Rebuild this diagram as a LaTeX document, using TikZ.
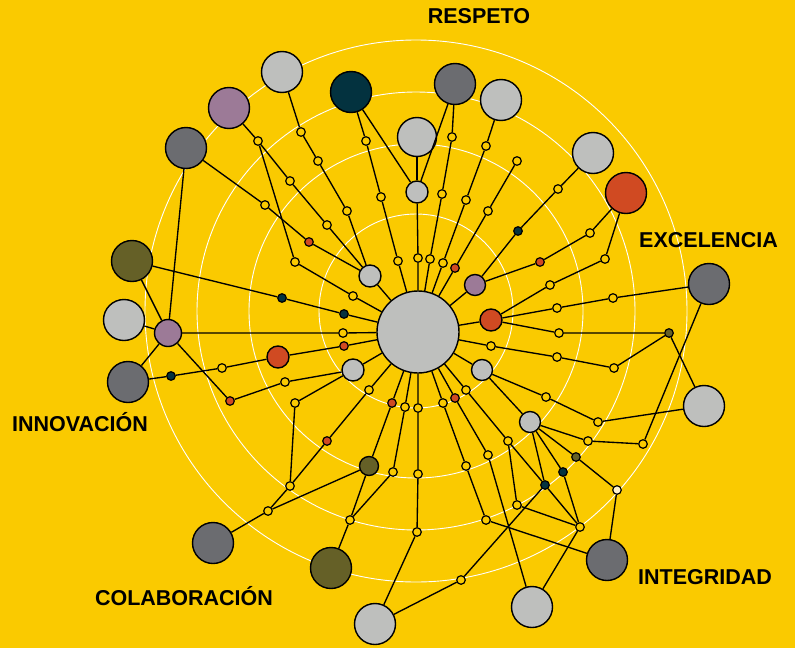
\documentclass[tikz,border=0pt]{standalone}
\usepackage{fontspec}
\setmainfont{Liberation Sans}
\newfontfamily\labfont{Liberation Sans Bold}
\definecolor{bg}{HTML}{FACA00}
\definecolor{lgray}{HTML}{BEBFBD}
\definecolor{dgray}{HTML}{6B6C70}
\definecolor{purp}{HTML}{9C7A97}
\definecolor{teal}{HTML}{03323F}
\definecolor{olive}{HTML}{656027}
\definecolor{redn}{HTML}{D04A22}
\definecolor{cream}{HTML}{FFF1C8}
\tikzset{
  nd/.style={circle, draw=black, line width=1.4pt, inner sep=0pt},
  big/.style={nd, minimum size=41pt},
  med/.style={nd, minimum size=22pt},
  sm/.style={circle, draw=black, line width=1.2pt, inner sep=0pt, minimum size=8.6pt, fill=bg},
  edge/.style={line width=1.35pt, black},
  ring/.style={white, line width=0.9pt},
  lab/.style={font=\labfont\fontsize{21.5}{24}\selectfont, anchor=base, inner sep=0pt}
}
\begin{document}
\begin{tikzpicture}[x=1pt,y=-1pt]
\fill[bg] (0,0) rectangle (795,648);
\useasboundingbox (0,0) rectangle (795,648);
% rings
\foreach \r in {97,167,219,271} \draw[ring] (416,311) circle[radius=\r pt];
% labels
\node[lab] (tR) at (479,23.5) {RESPETO};
\node[lab] (tE) at (708.5,247) {EXCELENCIA};
\node[lab] (tI) at (705,584) {INTEGRIDAD};
\node[lab] (tN) at (80,431) {INNOVACIÓN};
\node[lab] (tC) at (184,605) {COLABORACIÓN};
% central
\node[nd, fill=lgray, minimum size=82pt] (C0) at (418,332) {};
% big nodes
\node[big, fill=lgray] (L1) at (282,72) {};
\node[big, fill=purp] (P1) at (229,108) {};
\node[big, fill=teal] (N1) at (351,92) {};
\node[big, fill=dgray] (G1) at (455,84) {};
\node[big, fill=lgray] (L2) at (501,100) {};
\node[big, fill=lgray, minimum size=39pt] (L3) at (417,137) {};
\node[big, fill=lgray] (L4) at (593,153) {};
\node[big, fill=redn] (R1) at (626,193) {};
\node[big, fill=dgray] (Gtl) at (186,148) {};
\node[big, fill=dgray] (G2) at (709,284) {};
\node[big, fill=olive] (O1) at (132,261) {};
\node[big, fill=lgray] (L5) at (124,320) {};
\node[big, fill=dgray] (G3) at (128,382) {};
\node[big, fill=lgray] (L6) at (704,406) {};
\node[big, fill=dgray] (G4) at (607,560) {};
\node[big, fill=lgray] (L7) at (532,607) {};
\node[big, fill=dgray] (G5) at (213,543) {};
\node[big, fill=olive] (O2) at (331,568) {};
\node[big, fill=lgray] (L8) at (375,624) {};
% medium nodes
\node[med, fill=lgray] (S1) at (417,192) {};
\node[med, fill=lgray] (SA) at (370,276) {};
\node[med, fill=purp, minimum size=27pt] (PM) at (168,333) {};
\node[med, fill=redn] (RM) at (278,357) {};
\node[med, fill=lgray] (SD) at (353,370) {};
\node[med, fill=purp, minimum size=21pt] (PS) at (475,285) {};
\node[med, fill=redn] (RR) at (491,320) {};
\node[med, fill=lgray, minimum size=21pt] (SB) at (482,370) {};
\node[med, fill=lgray, minimum size=21pt] (SC) at (530,422) {};
\node[med, fill=olive, minimum size=19pt] (OS) at (369,466) {};
% small nodes
\node[sm] (a1) at (301,132) {};
\node[sm] (a2) at (318,161) {};
\node[sm] (a3) at (347,211) {};
\node[sm] (b1) at (258,141) {};
\node[sm] (b2) at (290,181) {};
\node[sm] (b3) at (327,225) {};
\node[sm] (b4) at (295,262) {};
\node[sm] (b5) at (353,296) {};
\node[sm] (c1) at (265,205) {};
\node[sm, fill=redn] (c2) at (309,242) {};
\node[sm] (d1) at (366,141) {};
\node[sm] (d2) at (381,197) {};
\node[sm] (d3) at (398,261) {};
\node[sm] (e1) at (418,258) {};
\node[sm] (f1) at (452,137) {};
\node[sm] (f2) at (442,194) {};
\node[sm] (f3) at (430,259) {};
\node[sm] (g1) at (486,146) {};
\node[sm] (g2) at (466,200) {};
\node[sm] (g3) at (443,263) {};
\node[sm] (h1) at (517,161) {};
\node[sm] (h2) at (488,211) {};
\node[sm, fill=redn] (h3) at (455,268) {};
\node[sm] (i1) at (558,189) {};
\node[sm, fill=teal] (i2) at (518,231) {};
\node[sm] (j1) at (590,233) {};
\node[sm, fill=redn] (j2) at (540,262) {};
\node[sm] (k1) at (605,259) {};
\node[sm] (k2) at (550,285) {};
\node[sm] (m1) at (557,308) {};
\node[sm] (m2) at (613,298) {};
\node[sm] (n1) at (559,333) {};
\node[sm, fill=olive] (n2) at (669,333) {};
\node[sm] (p1) at (491,346) {};
\node[sm] (p2) at (557,357) {};
\node[sm] (p3) at (614,368) {};
\node[sm] (q1) at (546,397) {};
\node[sm] (q2) at (598,422) {};
\node[sm] (r1) at (588,441) {};
\node[sm] (r2) at (643,444) {};
\node[sm, fill=olive] (s1) at (576,457) {};
\node[sm, fill=cream] (s2) at (617,490) {};
\node[sm, fill=teal] (t1) at (563,472) {};
\node[sm, fill=teal] (t2) at (545,485) {};
\node[sm] (u1) at (580,527) {};
\node[sm] (v1) at (466,390) {};
\node[sm] (v2) at (508,441) {};
\node[sm] (v3) at (517,505) {};
\node[sm, fill=redn] (w1) at (455,398) {};
\node[sm] (w2) at (488,455) {};
\node[sm] (x1) at (443,403) {};
\node[sm] (x2) at (466,466) {};
\node[sm] (x3) at (486,520) {};
\node[sm] (y1) at (461,580) {};
\node[sm] (z1) at (418,408) {};
\node[sm] (z2) at (418,474) {};
\node[sm] (z3) at (417,532) {};
\node[sm] (aa1) at (405,407) {};
\node[sm] (aa2) at (393,472) {};
\node[sm] (aa3) at (350,520) {};
\node[sm, fill=redn] (bb1) at (392,403) {};
\node[sm] (cc1) at (369,390) {};
\node[sm, fill=redn] (cc2) at (327,441) {};
\node[sm] (cc3) at (290,486) {};
\node[sm] (cc4) at (268,511) {};
\node[sm] (dd1) at (295,403) {};
\node[sm] (dd2) at (285,382) {};
\node[sm, fill=redn] (dd3) at (230,401) {};
\node[sm, fill=redn] (ee1) at (344,346) {};
\node[sm] (ee2) at (222,368) {};
\node[sm, fill=teal] (ee3) at (171,376) {};
\node[sm] (ff1) at (343,333) {};
\node[sm, fill=teal] (gg1) at (344,314) {};
\node[sm, fill=teal] (gg2) at (282,298) {};
% edges
\draw[edge] (L1)--(a1)--(a2)--(a3)--(SA);
\draw[edge] (P1)--(b1)--(b2)--(b3)--(SA);
\draw[edge] (b1)--(b4)--(b5)--(C0);
\draw[edge] (Gtl)--(c1)--(c2)--(SA);
\draw[edge] (Gtl)--(PM);
\draw[edge] (SA)--(C0);
\draw[edge] (N1)--(d1)--(d2)--(d3)--(C0);
\draw[edge] (N1)--(S1);
\draw[edge] (L3)--(S1);
\draw[edge] (G1)--(S1);
\draw[edge] (S1)--(e1)--(C0);
\draw[edge] (G1)--(f1)--(f2)--(f3)--(C0);
\draw[edge] (L2)--(g1)--(g2)--(g3)--(C0);
\draw[edge] (h1)--(h2)--(h3)--(C0);
\draw[edge] (L4)--(i1)--(i2)--(PS);
\draw[edge] (R1)--(j1)--(j2)--(PS);
\draw[edge] (PS)--(C0);
\draw[edge] (R1)--(k1)--(k2)--(RR);
\draw[edge] (RR)--(C0);
\draw[edge] (RR)--(m1)--(m2)--(G2);
\draw[edge] (RR)--(n1)--(n2)--(L6);
\draw[edge] (n2)--(p3)--(p2)--(p1)--(C0);
\draw[edge] (G2)--(r2)--(r1)--(SC);
\draw[edge] (SB)--(C0);
\draw[edge] (SB)--(q1)--(q2)--(L6);
\draw[edge] (SB)--(SC);
\draw[edge] (SC)--(s1)--(s2)--(G4);
\draw[edge] (SC)--(t1)--(u1);
\draw[edge] (SC)--(t2)--(u1);
\draw[edge] (t2)--(y1)--(L8);
\draw[edge] (C0)--(v1)--(v2)--(t2);
\draw[edge] (v2)--(v3)--(u1);
\draw[edge] (C0)--(w1)--(w2)--(L7);
\draw[edge] (C0)--(x1)--(x2)--(x3)--(G4);
\draw[edge] (u1)--(L7);
\draw[edge] (C0)--(z1)--(z2)--(z3)--(L8);
\draw[edge] (C0)--(aa1)--(aa2)--(aa3)--(O2);
\draw[edge] (C0)--(bb1)--(OS)--(aa3);
\draw[edge] (OS)--(cc4);
\draw[edge] (C0)--(cc1)--(cc2)--(cc3)--(cc4)--(G5);
\draw[edge] (cc3)--(dd1)--(SD);
\draw[edge] (SD)--(C0);
\draw[edge] (SD)--(dd2)--(dd3)--(PM);
\draw[edge] (C0)--(ee1)--(RM)--(ee2)--(ee3)--(G3);
\draw[edge] (C0)--(ff1)--(PM);
\draw[edge] (C0)--(gg1)--(gg2)--(O1);
\draw[edge] (O1)--(PM);
\draw[edge] (L5)--(PM);
\draw[edge] (G3)--(PM);
\end{tikzpicture}
\end{document}
